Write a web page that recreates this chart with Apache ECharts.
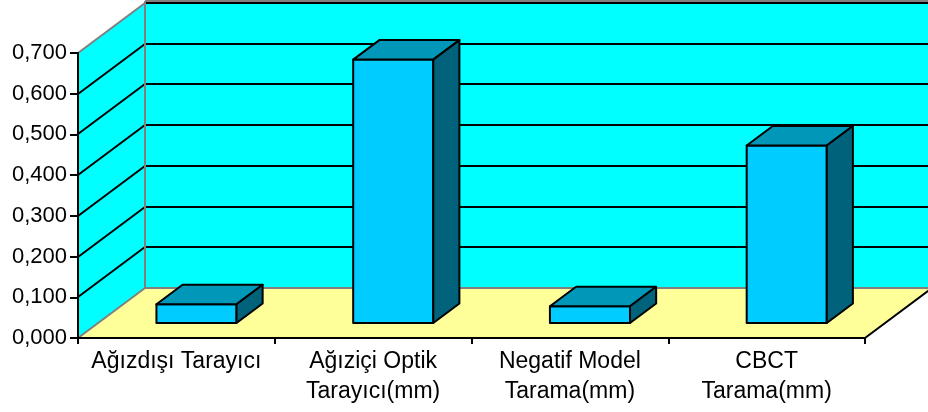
<!DOCTYPE html>
<html>
<head>
<meta charset="utf-8">
<script src="https://cdn.jsdelivr.net/npm/echarts@6/dist/echarts.min.js"></script>
<style>
  html, body { margin: 0; padding: 0; background: #fff; }
  #chart { width: 928px; height: 412px; }
</style>
</head>
<body>
<div id="chart"></div>
<script>
// data
const categories = ['Ağızdışı Tarayıcı', 'Ağıziçi Optik\nTarayıcı(mm)', 'Negatif Model\nTarama(mm)', 'CBCT\nTarama(mm)'];
const values = [0.046, 0.647, 0.041, 0.436];
const yTicks = [0, 0.1, 0.2, 0.3, 0.4, 0.5, 0.6, 0.7];

// 3D look: depth vector of the walls (px) and bar placement inside it
const DX = 67, DY = -50;
const BAR_FRONT = 0.3, BAR_BACK = 0.69;
const BAR_WIDTH = 0.407;

const FONT = "'Liberation Sans', Arial, sans-serif";

var myChart = echarts.init(document.getElementById('chart'));

function line(x1, y1, x2, y2, color, width) {
  return {
    type: 'line',
    shape: { x1: x1, y1: y1, x2: x2, y2: y2 },
    style: { stroke: color, lineWidth: width || 1.5 }
  };
}
function poly(points, fill) {
  return { type: 'polygon', shape: { points: points }, style: { fill: fill, stroke: null } };
}

// walls + floor + gridlines
function renderWalls(params, api) {
  const cs = params.coordSys;
  const left = cs.x, right = cs.x + cs.width;
  const yMax = yTicks[yTicks.length - 1];
  const yBase = api.coord([0, 0])[1];
  const yTop = api.coord([0, yMax])[1];
  const children = [];
  // side wall
  children.push(poly([[left, yBase], [left, yTop], [left + DX, yTop + DY], [left + DX, yBase + DY]], '#00FFFF'));
  // back wall
  children.push(poly([[left + DX, yBase + DY], [left + DX, yTop + DY], [right + DX, yTop + DY], [right + DX, yBase + DY]], '#00FFFF'));
  // floor
  children.push(poly([[left, yBase], [right, yBase], [right + DX, yBase + DY], [left + DX, yBase + DY]], '#FFFF99'));
  // gridlines
  yTicks.forEach(function (v) {
    if (v <= 0) return;
    const y = Math.round(api.coord([0, v])[1]);
    if (v < yMax) children.push(line(left, y, left + DX, y + DY, '#000', 2));
    children.push(line(left + DX, y + DY, right + DX, y + DY, '#000', 2));
  });
  // grey edges
  const grey = '#808080';
  children.push(line(left, yTop, left + DX, yTop + DY, grey, 2));
  children.push(line(left + DX, yTop + DY - 2, right + DX, yTop + DY - 2, grey, 2));
  children.push(line(left + DX, yTop + DY - 2, left + DX, yBase + DY, grey, 2));
  children.push(line(left + DX, yBase + DY, right + DX, yBase + DY, grey, 2));
  children.push(line(left, yBase, left + DX, yBase + DY, grey, 2));
  // floor right edge
  children.push(line(right, yBase, right + DX, yBase + DY, '#000', 2));
  return { type: 'group', children: children };
}

// 3D bar: front, top, side
function renderBar(params, api) {
  const i = api.value(0), v = api.value(1);
  const base = api.coord([i, 0]);
  const top = api.coord([i, v]);
  const band = api.size([1, 0])[0];
  const w = band * BAR_WIDTH;
  const xL = base[0] - w / 2 + BAR_FRONT * DX, xR = xL + w;
  const yB = base[1] + BAR_FRONT * DY, yT = top[1] + BAR_FRONT * DY;
  const bx = (BAR_BACK - BAR_FRONT) * DX, by = (BAR_BACK - BAR_FRONT) * DY;
  const st = { stroke: '#000', lineWidth: 2, lineJoin: 'round' };
  return {
    type: 'group',
    children: [
      { type: 'polygon', shape: { points: [[xL, yB], [xL, yT], [xR, yT], [xR, yB]] }, style: Object.assign({ fill: '#00CCFF' }, st) },
      { type: 'polygon', shape: { points: [[xL, yT], [xL + bx, yT + by], [xR + bx, yT + by], [xR, yT]] }, style: Object.assign({ fill: '#0097B9' }, st) },
      { type: 'polygon', shape: { points: [[xR, yB], [xR, yT], [xR + bx, yT + by], [xR + bx, yB + by]] }, style: Object.assign({ fill: '#00637B' }, st) }
    ]
  };
}

let option = {
  backgroundColor: '#fff',
  animation: false,
  grid: { left: 78, right: 63, top: 53, bottom: 74, containLabel: false },
  xAxis: {
    type: 'category',
    data: categories,
    z: 10,
    axisLine: { lineStyle: { color: '#000', width: 2 } },
    axisTick: { show: true, length: 6, lineStyle: { color: '#000', width: 2 } },
    axisLabel: { color: '#000', fontFamily: FONT, fontSize: 23, lineHeight: 30, margin: 9, interval: 0 }
  },
  yAxis: {
    type: 'value',
    min: 0,
    max: 0.7,
    interval: 0.1,
    z: 10,
    axisLine: { show: true, lineStyle: { color: '#000', width: 2 } },
    axisTick: { show: true, length: 8, lineStyle: { color: '#000', width: 2 } },
    splitLine: { show: false },
    axisLabel: {
      color: '#000', fontFamily: FONT, fontSize: 22, margin: 11,
      formatter: function (v) { return v.toFixed(3).replace('.', ','); }
    }
  },
  series: [
    {
      type: 'custom',
      z: 1,
      silent: true,
      renderItem: renderWalls,
      data: [[0, 0]]
    },
    {
      type: 'custom',
      z: 3,
      renderItem: renderBar,
      data: values.map(function (v, i) { return [i, v]; })
    }
  ]
};

myChart.setOption(option);
window.onresize = function () {
  myChart.resize();
};
</script>
</body>
</html>
